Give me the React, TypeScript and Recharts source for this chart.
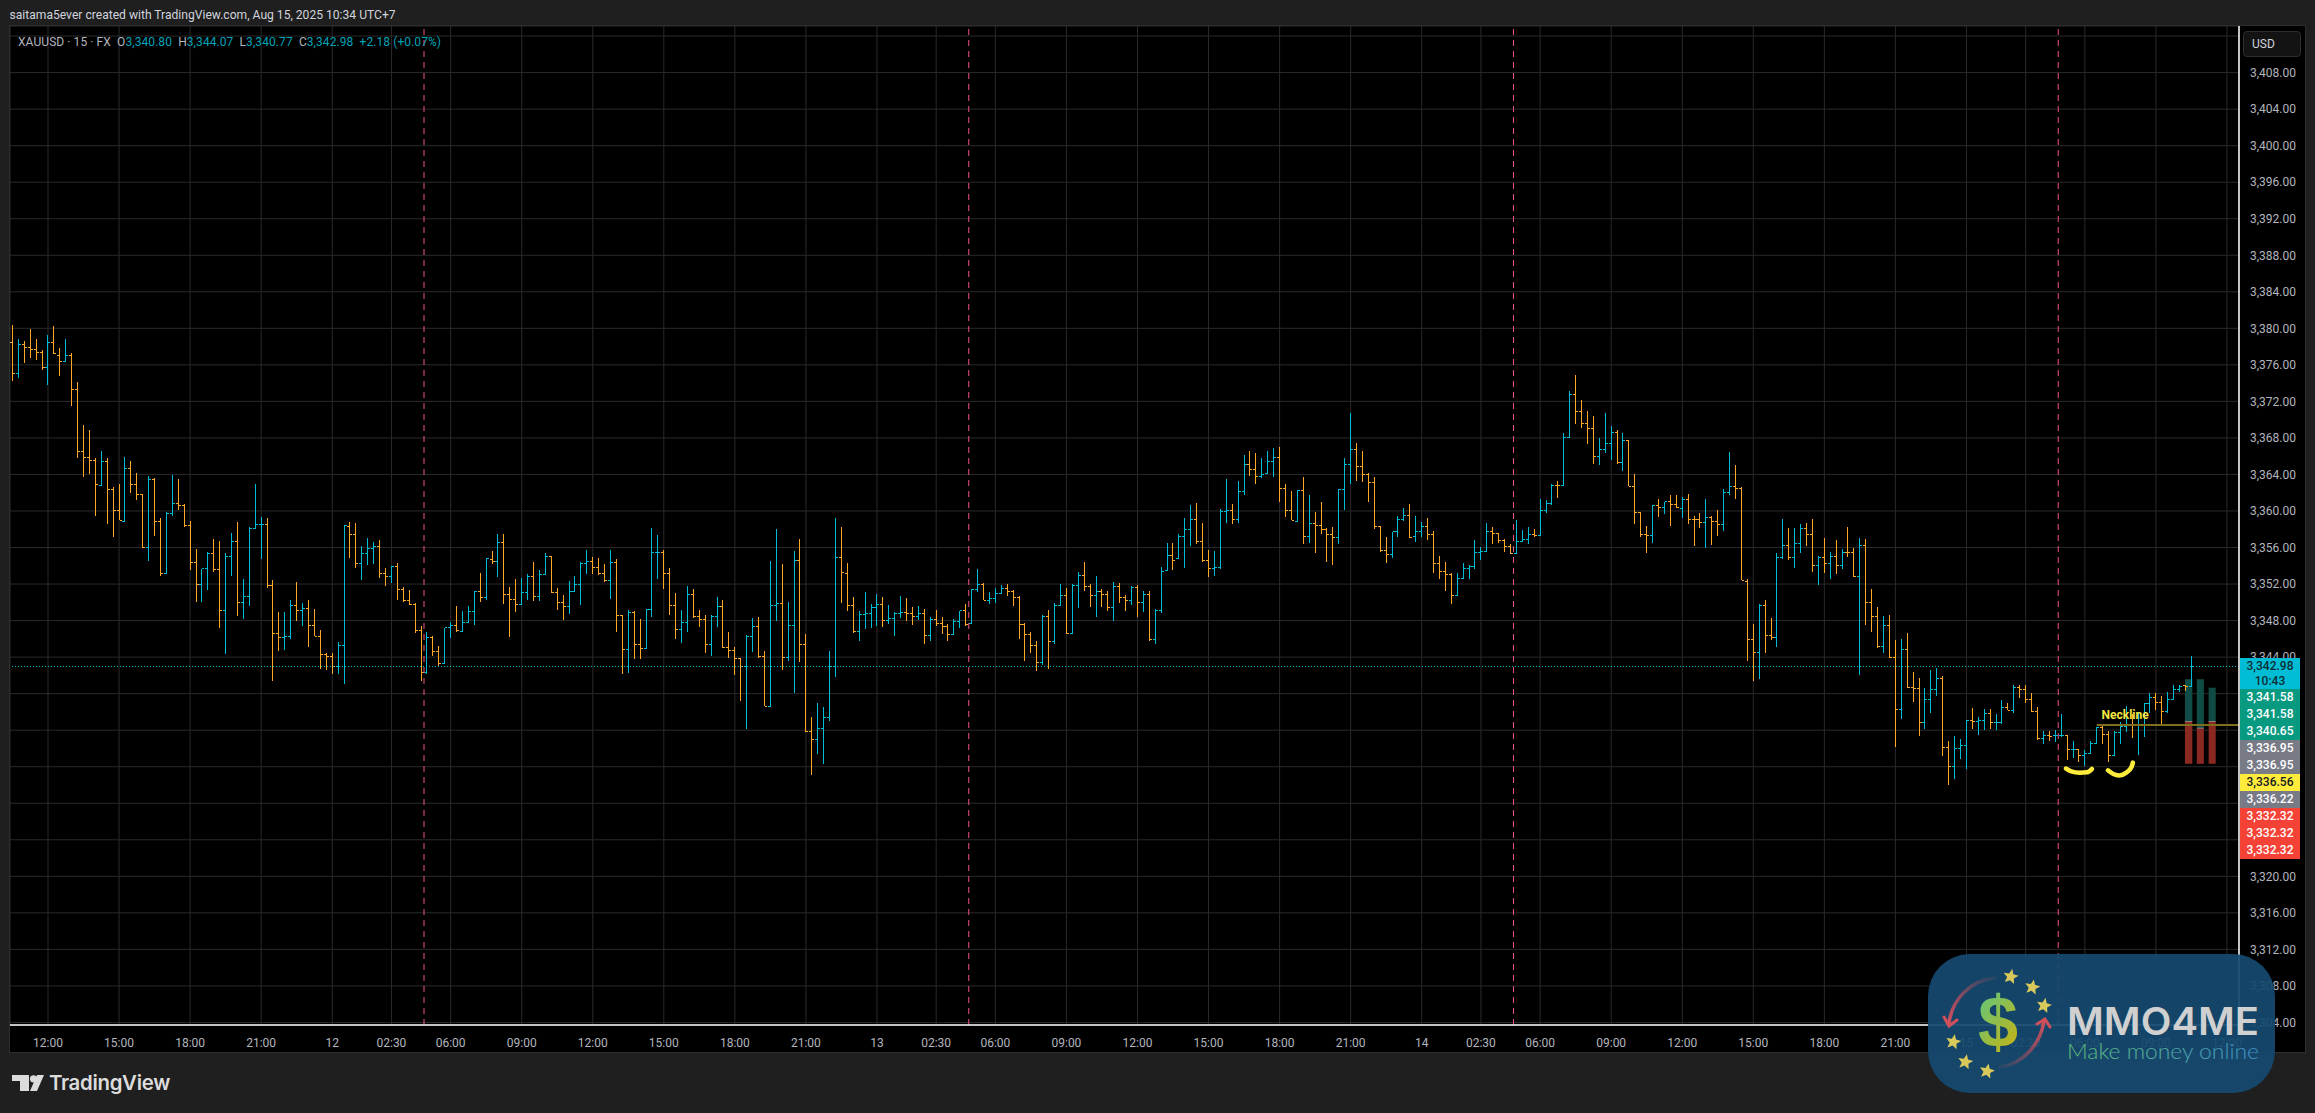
import React from "react";
import {
  ComposedChart,
  Bar,
  Line,
  XAxis,
  YAxis,
  CartesianGrid,
  ReferenceLine,
  ReferenceArea,
  ReferenceDot,
} from "recharts";

const opens = [
  3378.4,3375.0,3378.2,3377.9,3377.7,3377.4,3375.7,3378.5,3377.0,3376.4,
  3377.0,3373.3,3366.5,3365.9,3365.5,3362.8,3365.4,3362.4,3360.1,3358.9,
  3364.7,3362.9,3361.8,3356.0,3363.5,3358.8,3353.2,3359.7,3360.8,3360.6,
  3358.4,3354.4,3352.0,3353.7,3355.3,3353.6,3349.1,3355.0,3356.7,3350.0,
  3350.6,3358.1,3358.5,3358.5,3351.8,3346.6,3346.2,3346.3,3349.7,3349.1,
  3349.3,3347.5,3346.3,3344.3,3344.1,3343.0,3345.3,3358.3,3357.4,3354.2,
  3355.3,3355.9,3356.1,3353.2,3352.8,3353.9,3351.4,3350.2,3349.8,3346.9,
  3342.3,3346.2,3344.6,3343.3,3347.2,3347.5,3346.8,3347.8,3349.0,3351.2,
  3350.5,3354.7,3354.5,3356.5,3350.9,3350.3,3349.8,3351.1,3352.8,3350.6,
  3353.0,3355.0,3351.1,3350.0,3349.5,3351.2,3351.9,3354.3,3354.5,3353.8,
  3353.1,3352.4,3354.4,3348.6,3344.8,3348.9,3345.4,3344.9,3349.2,3355.5,
  3355.5,3353.1,3349.7,3347.0,3347.8,3350.9,3348.4,3348.1,3345.4,3348.4,
  3349.5,3345.1,3344.7,3343.8,3343.0,3346.3,3347.4,3344.1,3338.6,3349.6,
  3349.9,3344.0,3347.5,3354.6,3345.4,3335.9,3335.0,3336.2,3337.4,3343.0,
  3354.9,3353.2,3349.6,3346.8,3348.7,3348.8,3349.4,3349.8,3348.0,3348.2,
  3348.8,3348.9,3348.8,3348.4,3348.8,3346.4,3348.1,3347.7,3347.4,3346.5,
  3347.9,3349.1,3347.7,3351.4,3351.9,3350.2,3350.4,3351.0,3351.5,3351.2,
  3350.5,3347.6,3346.5,3345.3,3343.4,3348.4,3345.7,3349.6,3350.7,3346.6,
  3351.8,3352.9,3351.7,3350.7,3351.2,3350.9,3349.4,3351.7,3350.5,3350.2,
  3351.6,3350.0,3350.9,3345.9,3349.1,3353.5,3355.1,3354.8,3357.2,3358.0,
  3359.1,3356.7,3354.6,3353.7,3353.8,3359.9,3360.0,3359.1,3362.1,3365.1,
  3364.5,3363.8,3364.1,3365.4,3365.9,3362.5,3360.0,3358.9,3362.2,3357.2,
  3358.6,3358.4,3358.0,3357.4,3357.1,3362.3,3365.1,3366.7,3364.9,3364.0,
  3363.1,3358.3,3355.7,3355.2,3357.7,3359.1,3359.5,3357.2,3357.8,3358.3,
  3357.4,3354.2,3353.4,3353.0,3350.8,3352.6,3353.7,3353.9,3355.5,3355.6,
  3357.7,3357.5,3356.8,3356.1,3355.3,3356.7,3356.9,3357.4,3357.3,3360.0,
  3360.8,3362.8,3362.8,3368.0,3372.8,3370.9,3369.6,3369.0,3366.0,3366.7,
  3367.4,3368.6,3365.3,3367.7,3362.7,3359.8,3357.4,3357.3,3360.6,3360.4,
  3361.0,3360.7,3360.3,3361.3,3359.1,3359.1,3358.7,3359.3,3358.9,3358.5,
  3362.0,3362.7,3362.5,3352.3,3345.9,3344.5,3349.7,3346.4,3346.1,3354.9,
  3356.2,3354.9,3356.4,3358.1,3357.4,3354.0,3354.9,3354.3,3355.0,3354.0,
  3355.5,3355.4,3352.8,3356.2,3350.0,3348.5,3345.2,3347.5,3344.0,3338.3,
  3344.8,3340.7,3340.6,3336.8,3339.4,3340.5,3341.7,3334.1,3332.0,3334.0,
  3334.3,3337.1,3337.0,3337.1,3337.8,3336.8,3336.8,3338.5,3338.1,3340.7,
  3340.5,3339.4,3338.0,3335.1,3335.4,3335.4,3335.4,3335.4,3333.9,3333.9,
  3333.2,3333.5,3334.5,3336.3,3335.5,3333.2,3335.7,3336.4,3336.6,3336.5,
  3336.5,3338.9,3339.6,3339.0,3338.0,3339.4,3340.4,3340.85,3340.80,
];

const highs = [
  3380.4,3378.8,3378.6,3379.9,3378.8,3377.6,3379.3,3380.3,3377.8,3378.8,
  3377.3,3374.1,3369.4,3368.9,3365.8,3366.6,3365.8,3362.6,3363.0,3365.9,
  3365.5,3364.2,3361.8,3363.8,3363.6,3359.2,3359.9,3363.9,3363.5,3360.8,
  3358.9,3355.8,3353.7,3355.5,3356.9,3356.7,3355.4,3357.6,3358.8,3352.6,
  3358.3,3362.9,3359.3,3359.2,3352.4,3348.9,3348.9,3350.2,3352.2,3349.9,
  3350.2,3349.3,3347.0,3344.5,3344.5,3345.6,3358.5,3358.8,3358.7,3356.2,
  3357.0,3356.6,3356.8,3353.8,3354.0,3354.3,3351.7,3351.3,3349.9,3347.4,
  3346.7,3346.3,3345.2,3347.2,3347.8,3349.6,3349.0,3349.6,3351.2,3353.2,
  3354.9,3355.6,3357.5,3357.5,3351.7,3352.6,3352.7,3353.1,3354.4,3353.5,
  3355.4,3355.1,3351.6,3350.8,3352.3,3352.9,3354.4,3355.7,3355.0,3354.9,
  3354.2,3355.7,3354.7,3348.6,3349.2,3349.1,3348.2,3349.3,3358.1,3357.4,
  3355.7,3353.8,3351.0,3349.2,3351.8,3351.5,3349.2,3348.6,3348.6,3350.6,
  3350.3,3346.8,3345.1,3343.9,3346.4,3348.3,3348.4,3344.7,3354.5,3358.0,
  3354.2,3350.0,3355.6,3356.9,3346.5,3337.4,3339.0,3338.5,3344.7,3359.2,
  3358.2,3354.3,3350.6,3349.1,3351.1,3349.8,3350.9,3350.6,3349.7,3348.9,
  3350.7,3350.5,3349.5,3349.6,3349.3,3348.4,3349.2,3348.4,3347.6,3348.2,
  3349.1,3349.8,3351.5,3353.7,3352.1,3351.1,3351.6,3351.9,3352.0,3351.4,
  3350.7,3347.7,3346.8,3345.8,3348.6,3349.2,3349.9,3352.0,3351.6,3352.0,
  3353.3,3354.4,3352.0,3352.9,3351.5,3351.2,3352.2,3352.1,3350.8,3351.8,
  3351.9,3351.2,3351.2,3349.3,3353.9,3356.5,3356.5,3357.5,3359.2,3360.7,
  3360.9,3358.7,3355.7,3355.6,3360.2,3363.5,3360.8,3363.3,3366.1,3366.6,
  3366.3,3365.8,3366.6,3366.9,3367.0,3363.0,3362.2,3362.3,3363.7,3361.8,
  3359.9,3361.0,3358.1,3358.3,3362.4,3365.8,3370.7,3367.4,3366.6,3364.2,
  3363.7,3358.4,3357.2,3357.7,3359.5,3360.3,3360.8,3359.5,3358.8,3359.2,
  3357.8,3355.1,3354.4,3353.2,3353.2,3354.3,3354.1,3356.8,3356.1,3358.7,
  3358.2,3357.5,3356.9,3356.4,3359.0,3357.9,3358.3,3358.0,3361.3,3361.2,
  3363.0,3363.3,3368.5,3373.1,3374.9,3372.1,3370.9,3370.4,3368.0,3370.7,
  3369.3,3368.9,3368.5,3367.8,3364.1,3359.9,3358.4,3360.6,3361.3,3361.0,
  3361.8,3361.7,3361.5,3361.9,3359.4,3359.8,3361.3,3359.4,3360.1,3362.4,
  3366.5,3365.0,3362.6,3352.5,3347.6,3349.8,3350.3,3348.3,3355.4,3359.1,
  3358.1,3358.1,3358.6,3358.7,3359.1,3355.1,3357.0,3355.5,3356.8,3355.8,
  3358.3,3356.0,3357.0,3356.9,3351.5,3349.5,3348.5,3348.6,3345.9,3346.0,
  3346.6,3342.4,3341.7,3340.6,3342.6,3342.8,3341.9,3334.8,3335.4,3335.0,
  3337.1,3338.4,3337.4,3338.3,3338.3,3337.8,3339.3,3339.0,3340.9,3340.9,
  3341.0,3340.1,3338.5,3335.9,3335.9,3336.0,3337.8,3335.4,3334.8,3333.9,
  3333.8,3334.8,3336.4,3336.6,3335.9,3335.9,3336.9,3338.6,3337.8,3338.0,
  3339.0,3340.1,3340.1,3339.7,3340.2,3340.9,3340.9,3341.0,3344.07,
];

const lows = [
  3374.2,3374.6,3376.2,3376.8,3376.5,3375.4,3373.8,3377.2,3374.8,3376.3,
  3371.5,3365.8,3363.7,3364.0,3359.5,3362.8,3358.6,3357.1,3359.0,3358.8,
  3362.0,3361.2,3355.9,3354.5,3357.3,3352.9,3353.2,3359.4,3360.1,3358.2,
  3353.5,3350.0,3350.0,3351.3,3353.3,3347.2,3344.3,3352.9,3348.5,3348.2,
  3349.6,3358.1,3354.7,3351.6,3341.4,3344.7,3344.8,3346.0,3348.0,3347.4,
  3345.1,3346.3,3342.7,3342.6,3342.2,3342.2,3341.1,3354.9,3353.8,3352.4,
  3354.1,3354.2,3352.7,3351.8,3352.1,3350.3,3350.0,3349.7,3346.6,3341.4,
  3342.2,3344.1,3343.0,3343.3,3346.1,3346.8,3346.7,3347.8,3347.5,3350.0,
  3350.2,3354.2,3352.8,3349.8,3346.2,3348.9,3349.8,3350.3,3350.1,3350.1,
  3353.0,3351.0,3349.2,3348.1,3348.7,3351.2,3349.7,3353.1,3353.1,3353.0,
  3352.2,3350.4,3346.7,3342.1,3342.3,3343.8,3343.8,3344.9,3348.4,3352.6,
  3351.5,3348.6,3346.0,3345.5,3346.8,3348.3,3347.3,3344.4,3344.1,3347.3,
  3345.0,3343.9,3342.0,3339.2,3336.1,3344.6,3343.9,3338.6,3338.6,3347.9,
  3342.6,3343.6,3340.1,3343.5,3335.8,3331.1,3333.4,3332.3,3337.0,3341.8,
  3349.9,3349.0,3346.6,3345.8,3347.1,3347.2,3347.4,3347.3,3347.6,3346.3,
  3348.3,3347.9,3347.5,3348.1,3345.4,3345.8,3347.4,3346.5,3345.8,3346.5,
  3347.2,3347.4,3347.7,3351.1,3350.2,3349.8,3349.9,3350.9,3350.7,3349.6,
  3346.0,3343.6,3344.4,3342.5,3343.1,3342.7,3345.4,3349.6,3346.5,3346.6,
  3349.4,3351.2,3349.5,3348.4,3349.5,3349.1,3348.0,3349.9,3349.1,3349.7,
  3348.4,3348.9,3345.8,3345.4,3348.8,3353.5,3353.5,3354.7,3353.8,3356.2,
  3356.4,3354.4,3352.8,3352.9,3353.7,3358.7,3358.6,3358.7,3361.8,3363.8,
  3363.0,3363.6,3364.1,3363.7,3361.0,3359.3,3359.0,3358.9,3356.4,3356.5,
  3355.4,3357.5,3354.4,3354.1,3356.4,3360.1,3363.0,3363.3,3363.2,3361.0,
  3358.0,3355.5,3354.3,3354.9,3357.1,3358.9,3357.0,3356.6,3357.1,3356.8,
  3353.2,3352.5,3351.2,3349.8,3350.8,3352.6,3352.6,3353.6,3354.6,3355.6,
  3356.4,3356.5,3355.5,3355.3,3355.3,3356.6,3356.4,3357.1,3357.3,3359.8,
  3360.6,3361.4,3362.8,3368.0,3369.5,3369.1,3367.3,3365.1,3365.0,3366.3,
  3365.6,3365.1,3364.4,3362.7,3358.6,3357.1,3355.4,3356.5,3359.3,3359.7,
  3358.4,3360.3,3359.2,3358.6,3356.2,3358.1,3355.9,3356.3,3357.3,3357.8,
  3361.8,3361.3,3352.4,3343.6,3341.4,3341.6,3344.4,3345.9,3345.1,3354.7,
  3354.6,3353.8,3355.4,3356.2,3353.3,3351.9,3353.2,3352.5,3353.1,3353.7,
  3355.0,3352.8,3342.0,3347.5,3346.8,3344.95,3344.5,3343.9,3334.2,3337.2,
  3340.6,3339.1,3335.4,3336.1,3337.9,3339.7,3333.2,3330.0,3330.7,3332.8,
  3331.8,3336.1,3335.5,3336.0,3336.1,3336.0,3336.7,3338.2,3337.9,3339.5,
  3339.0,3338.0,3334.9,3334.5,3334.8,3334.7,3335.2,3332.7,3333.0,3332.5,
  3332.1,3333.5,3334.5,3334.5,3332.5,3333.2,3334.5,3335.8,3335.1,3333.3,
  3335.2,3337.9,3338.2,3336.7,3337.9,3339.4,3340.2,3340.3,3340.77,
];

const closes = [
  3375.0,3378.2,3377.9,3377.7,3377.4,3375.7,3378.5,3377.2,3376.4,3377.0,
  3373.3,3366.5,3365.9,3365.5,3362.9,3365.4,3362.4,3360.1,3359.0,3364.7,
  3362.9,3361.8,3356.0,3363.5,3358.8,3353.2,3359.7,3360.8,3360.6,3358.4,
  3354.4,3352.0,3353.7,3355.3,3353.6,3349.1,3355.0,3356.7,3350.0,3350.6,
  3358.1,3358.5,3358.5,3351.8,3346.6,3346.2,3346.3,3349.7,3349.1,3349.3,
  3347.5,3346.3,3344.3,3344.1,3343.0,3345.3,3358.4,3357.4,3354.2,3355.3,
  3355.9,3356.1,3353.2,3352.8,3353.9,3351.4,3350.2,3349.8,3346.9,3342.3,
  3346.2,3344.6,3343.3,3347.2,3347.5,3346.9,3347.8,3349.0,3351.2,3350.5,
  3354.8,3354.5,3356.5,3350.9,3350.3,3349.8,3351.1,3352.8,3350.6,3353.0,
  3355.0,3351.1,3350.0,3349.5,3351.2,3351.9,3354.3,3354.5,3353.8,3353.1,
  3352.4,3354.4,3348.6,3344.8,3348.9,3345.4,3344.9,3349.2,3355.5,3355.5,
  3353.1,3349.7,3347.0,3347.8,3350.9,3348.4,3348.1,3345.4,3348.4,3349.5,
  3345.1,3344.7,3343.8,3343.0,3346.3,3347.4,3344.1,3338.6,3349.6,3349.9,
  3344.0,3347.5,3354.6,3345.4,3335.9,3335.0,3336.2,3337.4,3343.0,3354.9,
  3353.3,3349.6,3346.8,3348.7,3348.8,3349.4,3349.8,3348.0,3348.2,3348.8,
  3348.9,3348.8,3348.4,3348.8,3346.4,3348.1,3347.7,3347.4,3346.5,3347.9,
  3349.1,3347.6,3351.4,3351.9,3350.2,3350.4,3351.0,3351.5,3351.2,3350.5,
  3347.6,3346.5,3345.3,3343.4,3348.4,3345.7,3349.6,3350.7,3346.6,3351.8,
  3352.9,3351.7,3350.7,3351.2,3350.9,3349.4,3351.7,3350.5,3350.2,3351.6,
  3350.0,3350.9,3345.9,3349.1,3353.4,3355.1,3354.6,3357.2,3358.0,3359.1,
  3356.7,3354.6,3353.7,3353.8,3359.9,3360.0,3359.1,3362.1,3365.1,3364.5,
  3363.8,3364.0,3365.4,3365.9,3362.5,3360.0,3359.0,3362.2,3357.2,3358.6,
  3358.4,3358.0,3357.4,3357.1,3362.3,3365.1,3366.7,3364.9,3364.0,3363.1,
  3358.3,3355.7,3355.2,3357.7,3359.1,3359.5,3357.1,3357.8,3358.3,3357.4,
  3354.2,3353.4,3353.0,3350.8,3352.6,3353.7,3353.9,3355.5,3355.6,3357.7,
  3357.5,3356.8,3356.1,3355.3,3356.7,3356.9,3357.4,3357.3,3360.0,3360.8,
  3362.8,3362.75,3368.0,3372.8,3370.9,3369.6,3369.0,3366.0,3366.7,3367.4,
  3368.6,3365.3,3367.7,3362.7,3359.8,3357.4,3357.3,3360.6,3360.4,3361.0,
  3360.7,3360.4,3361.3,3359.1,3359.05,3358.7,3359.3,3358.9,3358.5,3362.0,
  3362.7,3362.5,3352.4,3345.9,3344.5,3349.7,3346.4,3346.1,3354.9,3356.2,
  3354.9,3356.4,3358.1,3357.4,3354.0,3354.9,3354.3,3355.0,3354.0,3355.5,
  3355.4,3352.8,3356.2,3350.0,3348.5,3345.2,3347.5,3344.0,3338.3,3344.8,
  3340.7,3340.6,3336.8,3339.4,3340.5,3341.7,3334.1,3332.0,3334.0,3334.3,
  3337.1,3337.0,3337.1,3337.8,3336.8,3336.8,3338.5,3338.2,3340.7,3340.4,
  3339.4,3338.0,3335.1,3335.4,3335.35,3335.4,3335.4,3333.9,3333.9,3333.2,
  3333.5,3334.5,3336.3,3335.5,3333.2,3335.7,3336.4,3336.6,3336.5,3336.5,
  3338.9,3339.6,3339.0,3338.0,3339.4,3340.4,3340.8,3340.8,3342.98,
];

// time axis: bar index of each label (the daily 1h break makes spacing uneven)
const timeTickBars = [
  6,18,30,42,54,64,74,86,98,110,122,134,146,156,166,178,190,202,214,226,238,248,258,270,282,294,306,318,330,340,350,362,374,
];
const timeTickLabels = [
  "12:00","15:00","18:00","21:00","12","02:30","06:00","09:00","12:00","15:00","18:00","21:00","13","02:30","06:00","09:00","12:00","15:00","18:00","21:00","14","02:30","06:00","09:00","12:00","15:00","18:00","21:00","15","02:30","06:00","09:00","12:00",
];
const priceTicks = [
  3304,3308,3312,3316,3320,3324,3328,3332,3336,3340,3344,3348,3352,3356,3360,3364,3368,3372,3376,3380,3384,3388,3392,3396,3400,3404,3408,3412,
];
const sessionBreaks = [69.5, 161.5, 253.5, 345.5];
const lastPrice = 3342.98;

// long position drawings at the right edge
const posStart = [366.9, 368.9, 370.9];
const posEnd = [368.15, 370.1, 372.1];
const posTarget = [3341.58, 3341.58, 3340.65];
const posEntry = [3336.95, 3336.22, 3336.95];
const posStop = [3332.32, 3332.32, 3332.32];

const neckline = 3336.56;
const necklineBars = [352, 376.03];

// hand drawn smiles under the two bottoms
const smileOne = [
  { bar: 346.8, price: 3331.8 },
  { bar: 347.7, price: 3331.5 },
  { bar: 349.1, price: 3331.35 },
  { bar: 350.4, price: 3331.4 },
  { bar: 351.2, price: 3331.75 },
];
const smileTwo = [
  { bar: 353.9, price: 3331.6 },
  { bar: 354.8, price: 3331.2 },
  { bar: 355.8, price: 3331.05 },
  { bar: 357.0, price: 3331.35 },
  { bar: 357.9, price: 3332.0 },
  { bar: 358.1, price: 3332.45 },
];

const tagPrices = [3341.58, 3341.58, 3340.65, 3336.95, 3336.95, 3336.56, 3336.22, 3332.32, 3332.32, 3332.32];
const tagFills = ["#089981", "#089981", "#089981", "#787b86", "#787b86", "#ffeb3b", "#787b86", "#f44336", "#f44336", "#f44336"];

const stars = [
  [2010.7, 976.7],
  [2032.3, 987.3],
  [2044, 1005.7],
  [1953.3, 1042],
  [1965.3, 1062],
  [1987, 1071.3],
];

const UP = "#00bcd4";
const DOWN = "#ffa726";
const TEXT = "#b2b5be";

const rows = opens.map((open, i) => ({
  bar: i,
  open,
  close: closes[i],
  range: [lows[i], highs[i]],
}));

const money = (v: number) =>
  v.toLocaleString("en-US", { minimumFractionDigits: 2, maximumFractionDigits: 2 });

// OHLC bar: stem from the range bar, ticks placed inside it by price
function OhlcBar(props: any) {
  const { x, y, width, height, payload } = props;
  if (height == null) return null;
  const [low, high] = payload.range;
  const cx = Math.floor(x + width / 2) + 0.5;
  const perUnit = height / (high - low);
  const oy = Math.floor(y + (high - payload.open) * perUnit) + 0.5;
  const cy = Math.floor(y + (high - payload.close) * perUnit) + 0.5;
  const d = `M${cx} ${y}V${y + height}M${cx - 2.5} ${oy}H${cx}M${cx} ${cy}H${cx + 2.5}`;
  return (
    <path d={d} fill="none" stroke={payload.close >= payload.open ? UP : DOWN} strokeWidth={1} shapeRendering="crispEdges" />
  );
}

function starPoints(cx: number, cy: number, r: number) {
  const pts: string[] = [];
  for (let k = 0; k < 10; k++) {
    const a = (k * Math.PI) / 5 - Math.PI / 2 + 0.2;
    const rad = k % 2 === 0 ? r : r * 0.45;
    pts.push(`${cx + rad * Math.cos(a)},${cy + rad * Math.sin(a)}`);
  }
  return pts.join(" ");
}

function PriceTags() {
  return (
    <div style={{ position: "absolute", left: 2240, top: 658, width: 60, fontSize: 12, fontWeight: 500, textAlign: "center" }}>
      <div style={{ height: 31, background: "#00bcd4", color: "#0b2e33", lineHeight: "15px", paddingTop: 1, boxSizing: "border-box" }}>
        {money(lastPrice)}
        <br />
        10:43
      </div>
      {tagPrices.map((p, i) => (
        <div
          key={i}
          style={{
            height: 17,
            lineHeight: "17px",
            background: tagFills[i],
            color: tagFills[i] === "#ffeb3b" ? "#131722" : "#ffffff",
          }}
        >
          {money(p)}
        </div>
      ))}
    </div>
  );
}

function Watermark() {
  return (
    <svg width={2315} height={1113} style={{ position: "absolute", left: 0, top: 0 }}>
      <defs>
        <linearGradient id="dollar" x1="0" y1="0" x2="0.7" y2="1">
          <stop offset="0%" stopColor="#55c98a" />
          <stop offset="100%" stopColor="#c4b315" />
        </linearGradient>
        <linearGradient id="tagline" x1="0" y1="0" x2="1" y2="0">
          <stop offset="0%" stopColor="#63c07a" />
          <stop offset="100%" stopColor="#3f8fc8" />
        </linearGradient>
        <linearGradient id="arcLeft" x1="1" y1="0" x2="0" y2="1">
          <stop offset="0%" stopColor="#c8505f" stopOpacity={0.1} />
          <stop offset="100%" stopColor="#d24f5c" />
        </linearGradient>
        <linearGradient id="arcRight" x1="0" y1="1" x2="1" y2="0">
          <stop offset="0%" stopColor="#c8505f" stopOpacity={0.1} />
          <stop offset="100%" stopColor="#d24f5c" />
        </linearGradient>
      </defs>
      <rect x={1928} y={954} width={347} height={139} rx={42} fill="#154a70" fillOpacity={0.93} />
      <path d="M1995 978C1970 980 1952 1000 1949 1023" fill="none" stroke="url(#arcLeft)" strokeWidth={3.5} strokeLinecap="round" />
      <path d="M1944 1017L1949 1026L1957 1020" fill="none" stroke="#d24f5c" strokeWidth={3} strokeLinecap="round" />
      <path d="M2000 1067C2022 1064 2040 1046 2044 1021" fill="none" stroke="url(#arcRight)" strokeWidth={3.5} strokeLinecap="round" />
      <path d="M2037 1024L2045 1019L2050 1027" fill="none" stroke="#d24f5c" strokeWidth={3} strokeLinecap="round" />
      {stars.map(([sx, sy], i) => (
        <polygon key={i} points={starPoints(sx, sy, 8)} fill="#d9c95a" />
      ))}
      <text x={1998} y={1047} textAnchor="middle" fontFamily="'Liberation Sans', sans-serif" fontWeight={700} fontSize={72} fill="url(#dollar)">
        $
      </text>
      <text x={2067} y={1035} fontFamily="Inter, sans-serif" fontWeight={600} fontSize={38} fill="#d0d0d0" textLength={192} lengthAdjust="spacingAndGlyphs">
        MMO4ME
      </text>
      <text x={2067} y={1059} fontFamily="Lato, sans-serif" fontWeight={300} fontSize={22} fill="url(#tagline)" textLength={192} lengthAdjust="spacingAndGlyphs">
        Make money online
      </text>
    </svg>
  );
}

export default function App() {
  return (
    <div style={{ position: "absolute", left: 0, top: 0, width: 2315, height: 1113, overflow: "hidden", background: "#1f1f1f", fontFamily: "Roboto, sans-serif" }}>
      <div style={{ position: "absolute", left: 9.5, top: 8, fontSize: 12.1, color: "#d1d4dc", whiteSpace: "nowrap" }}>
        saitama5ever created with TradingView.com, Aug 15, 2025 10:34 UTC+7
      </div>

      <div style={{ position: "absolute", left: 10, top: 26, width: 2295, height: 1026, background: "#000", outline: "1px solid #2e2e2e" }}>
        <ComposedChart width={2295} height={1026} data={rows} margin={{ top: 0, right: 0, bottom: 0, left: 0 }} barSize={1}>
          <CartesianGrid stroke="#2a2a2a" />
          <XAxis
            dataKey="bar"
            type="number"
            domain={[-0.42, 376.03]}
            allowDataOverflow
            ticks={timeTickBars}
            interval={0}
            height={27}
            tickLine={false}
            axisLine={{ stroke: "#ffffff", strokeWidth: 1.5 }}
            tick={{ fill: TEXT, fontSize: 12 }}
            tickMargin={7}
            tickFormatter={(v: number) => timeTickLabels[timeTickBars.indexOf(v)] ?? ""}
          />
          <YAxis
            orientation="right"
            type="number"
            domain={[3303.72, 3413.1]}
            allowDataOverflow
            ticks={priceTicks}
            interval={0}
            width={66}
            tickLine={false}
            axisLine={{ stroke: "#ffffff", strokeWidth: 1.5 }}
            tick={{ fill: TEXT, fontSize: 12 }}
            tickMargin={5}
            tickFormatter={(v: number) => (v === 3412 ? "" : money(v))}
          />
          {sessionBreaks.map((b) => (
            <ReferenceLine key={b} x={b} stroke="#f0527f" strokeDasharray="6 5" />
          ))}
          <ReferenceLine y={lastPrice} stroke={UP} strokeDasharray="1 2" />
          <ReferenceLine
            segment={[
              { x: necklineBars[0], y: neckline },
              { x: necklineBars[1], y: neckline },
            ]}
            stroke="#7d6e1c"
            strokeWidth={2}
          />
          {posStart.map((s, i) => (
            <ReferenceArea key={`t${i}`} x1={s} x2={posEnd[i]} y1={posEntry[i]} y2={posTarget[i]} fill="#0f4c45" fillOpacity={1} stroke="none" />
          ))}
          {posStart.map((s, i) => (
            <ReferenceArea key={`s${i}`} x1={s} x2={posEnd[i]} y1={posStop[i]} y2={posEntry[i]} fill="#8a2822" fillOpacity={1} stroke="none" />
          ))}
          {posStart.map((s, i) => (
            <ReferenceLine
              key={`e${i}`}
              segment={[
                { x: s, y: posEntry[i] },
                { x: posEnd[i], y: posEntry[i] },
              ]}
              stroke="#8f7f80"
            />
          ))}
          <Bar dataKey="range" shape={OhlcBar} isAnimationActive={false} />
          <Line data={smileOne} dataKey="price" type="monotone" dot={false} stroke="#ffeb3b" strokeWidth={4.5} strokeLinecap="round" isAnimationActive={false} />
          <Line data={smileTwo} dataKey="price" type="monotone" dot={false} stroke="#ffeb3b" strokeWidth={4.5} strokeLinecap="round" isAnimationActive={false} />
          <ReferenceDot
            x={356.8}
            y={3337.66}
            r={0}
            fill="none"
            stroke="none"
            label={{ value: "Neckline", position: "center", fill: "#f5e642", fontSize: 12, fontWeight: 700 }}
          />
        </ComposedChart>
      </div>

      <div style={{ position: "absolute", left: 18, top: 35, fontSize: 12, letterSpacing: 0.08, whiteSpace: "pre", color: "#b2b5be" }}>
        XAUUSD · 15 · FX{"  "}O<span style={{ color: "#00a3b8" }}>3,340.80</span>
        {"  "}H<span style={{ color: "#00a3b8" }}>3,344.07</span>
        {"  "}L<span style={{ color: "#00a3b8" }}>3,340.77</span>
        {"  "}C<span style={{ color: "#00a3b8" }}>3,342.98</span>
        <span style={{ color: "#00a3b8" }}>{"  "}+2.18 (+0.07%)</span>
      </div>

      <div style={{ position: "absolute", left: 2243, top: 31, width: 58, height: 26, boxSizing: "border-box", background: "#131313", border: "1px solid #2e2e2e", borderRadius: 4, color: "#d1d4dc", fontSize: 12, lineHeight: "24px", paddingLeft: 8 }}>
        USD
      </div>

      <PriceTags />

      <svg width={34} height={20} style={{ position: "absolute", left: 11, top: 1074 }}>
        <path d="M1 1H18V17H9V7H1Z" fill="#dcdcdc" />
        <circle cx={22.5} cy={4.8} r={3.6} fill="#dcdcdc" />
        <path d="M26 1H33L26 17H19Z" fill="#dcdcdc" />
      </svg>
      <div style={{ position: "absolute", left: 49, top: 1070, fontFamily: "Inter, sans-serif", fontWeight: 600, fontSize: 20.4, letterSpacing: -0.3, color: "#dcdcdc" }}>
        TradingView
      </div>

      <Watermark />
    </div>
  );
}
